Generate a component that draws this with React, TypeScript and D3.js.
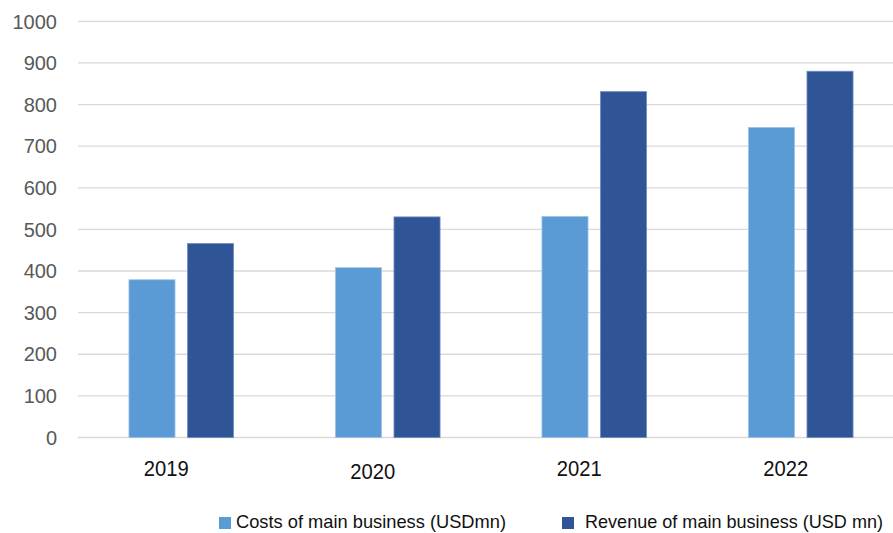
import React from "react";
import * as d3 from "d3";

const years = ["2019", "2020", "2021", "2022"];
const costs = [379, 408, 531, 745];
const revenue = [466, 530, 831, 880];
const yTicks = [0, 100, 200, 300, 400, 500, 600, 700, 800, 900, 1000];
const seriesNames = ["Costs of main business (USDmn)", "Revenue of main business (USD mn)"];
const seriesColors = ["#5b9bd5", "#2f5597"];

const W = 893;
const H = 533;

export default function App() {
  const x0 = d3.scaleBand<string>().domain(years).range([78, 904]).padding(0);
  const x1 = d3.scaleBand<string>().domain(["c", "r"]).range([0, 104.6]).paddingInner(0.213);
  const y = d3.scaleLinear().domain([0, 1000]).range([437.5, 21.3]);
  const font = "'Liberation Sans', Arial, sans-serif";
  const labelDy = [0, 3, 0, 0];

  return (
    <svg width={W} height={H} style={{ position: "absolute", left: 0, top: 0, background: "#fff" }}>
      <rect x={0} y={0} width={W} height={H} fill="#fff" />
      {yTicks.map((t) => (
        <g key={t}>
          <line x1={78} x2={W} y1={y(t)} y2={y(t)} stroke="#d9d9d9" strokeWidth={t === 0 ? 1.6 : 1.3} />
          <text x={57} y={y(t)} dy="0.36em" textAnchor="end" fontFamily={font} fontSize={20} fill="#595959">
            {t}
          </text>
        </g>
      ))}
      {years.map((yr, i) => {
        const gx = (x0(yr) as number) + x0.bandwidth() / 2 - 52.3;
        const vals = [costs[i], revenue[i]];
        return (
          <g key={yr} transform={`translate(${gx},0)`}>
            {["c", "r"].map((k, j) => (
              <rect
                key={k}
                x={x1(k) as number}
                y={y(vals[j])}
                width={x1.bandwidth()}
                height={y(0) - y(vals[j])}
                fill={seriesColors[j]}
                stroke={j === 0 ? "#9dc3e6" : "#6f8cc4"}
                strokeWidth={0.8}
              />
            ))}
          </g>
        );
      })}
      {years.map((yr, i) => (
        <text
          key={yr}
          x={(x0(yr) as number) + x0.bandwidth() / 2 - 15}
          y={476 + labelDy[i]}
          textAnchor="middle"
          fontFamily={font}
          fontSize={22}
          fill="#111"
          textLength={45}
          lengthAdjust="spacingAndGlyphs"
        >
          {yr}
        </text>
      ))}
      <g>
        <rect x={219} y={517} width={12} height={12} fill={seriesColors[0]} />
        <text x={236} y={528} fontFamily={font} fontSize={18.5} fill="#111" textLength={270} lengthAdjust="spacingAndGlyphs">
          {seriesNames[0]}
        </text>
        <rect x={562} y={517} width={12} height={12} fill={seriesColors[1]} />
        <text x={585} y={528} fontFamily={font} fontSize={18.5} fill="#111" textLength={298} lengthAdjust="spacingAndGlyphs">
          {seriesNames[1]}
        </text>
      </g>
    </svg>
  );
}
